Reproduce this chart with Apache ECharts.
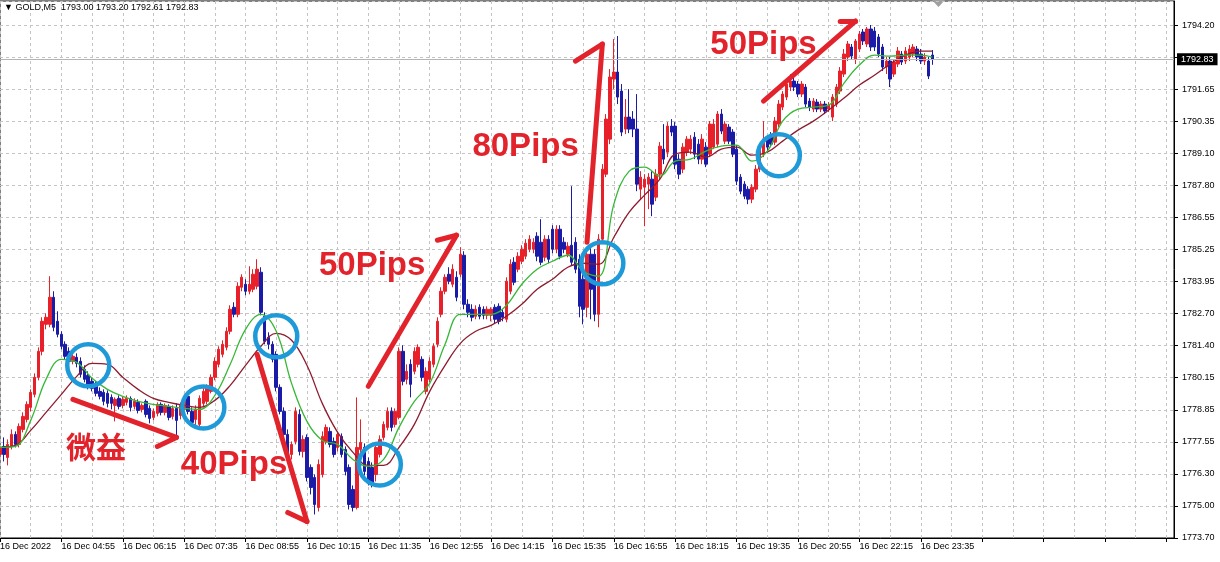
<!DOCTYPE html>
<html>
<head>
<meta charset="utf-8">
<title>GOLD,M5</title>
<script src="https://cdn.jsdelivr.net/npm/echarts@6/dist/echarts.min.js"></script>
<style>
    html, body { margin: 0; padding: 0; background: #fff; }
    #chart { width: 1220px; height: 562px; }
</style>
</head>
<body>
<div id="chart"></div>
<script>
// GOLD M5, 16 Dec 2022 - bars start at 03:35
const barCount = 307; // incl. empty space on the right

const xTickLabels = [
    "16 Dec 2022", "16 Dec 04:55", "16 Dec 06:15", "16 Dec 07:35", "16 Dec 08:55",
    "16 Dec 10:15", "16 Dec 11:35", "16 Dec 12:55", "16 Dec 14:15", "16 Dec 15:35",
    "16 Dec 16:55", "16 Dec 18:15", "16 Dec 19:35", "16 Dec 20:55", "16 Dec 22:15",
    "16 Dec 23:35"
];

const yTickLabels = [
    "1773.70", "1775.00", "1776.30", "1777.55", "1778.85", "1780.15", "1781.40",
    "1782.70", "1783.95", "1785.25", "1786.55", "1787.80", "1789.10", "1790.35",
    "1791.65", "1792.90", "1794.20"
];

// [open, close, low, high]
const candles = [
    [1777.04, 1777.32, 1776.76, 1777.64], [1777.36, 1777.04, 1776.76, 1777.72], [1776.92, 1777.44, 1776.60, 1777.64],
    [1777.36, 1777.84, 1777.24, 1778.04], [1777.84, 1777.44, 1777.32, 1777.96], [1777.44, 1778.16, 1777.32, 1778.28],
    [1778.04, 1778.56, 1777.92, 1778.72], [1778.44, 1779.04, 1778.32, 1779.16], [1778.92, 1779.52, 1778.76, 1779.64],
    [1779.44, 1780.12, 1779.32, 1780.28], [1780.12, 1781.16, 1780.00, 1781.32], [1781.16, 1782.36, 1781.00, 1782.52],
    [1782.24, 1782.52, 1782.04, 1782.68], [1782.24, 1783.32, 1782.12, 1784.16], [1783.32, 1782.12, 1781.96, 1783.56],
    [1782.36, 1781.84, 1781.72, 1782.76], [1781.84, 1781.36, 1781.24, 1781.96], [1781.44, 1780.96, 1780.84, 1781.56],
    [1781.16, 1780.76, 1780.60, 1781.32], [1780.76, 1780.96, 1780.64, 1781.16], [1780.92, 1780.68, 1780.52, 1781.08],
    [1780.76, 1780.24, 1780.12, 1780.92], [1780.44, 1780.04, 1779.92, 1780.60], [1780.20, 1779.80, 1779.64, 1780.36],
    [1779.96, 1779.68, 1779.56, 1780.12], [1779.84, 1779.48, 1779.36, 1779.96], [1779.56, 1779.36, 1779.24, 1779.72],
    [1779.52, 1779.16, 1779.00, 1779.64], [1779.48, 1779.08, 1778.92, 1779.60], [1779.32, 1779.08, 1778.84, 1779.44],
    [1779.00, 1779.24, 1778.36, 1779.32], [1779.28, 1778.96, 1778.84, 1779.40], [1779.00, 1779.24, 1778.88, 1779.36],
    [1779.12, 1779.28, 1779.00, 1779.40], [1779.28, 1778.92, 1778.76, 1779.36], [1778.96, 1779.16, 1778.84, 1779.28],
    [1779.12, 1778.80, 1778.68, 1779.24], [1778.84, 1779.00, 1778.72, 1779.08], [1779.16, 1778.64, 1778.52, 1779.24],
    [1778.88, 1778.48, 1778.28, 1779.00], [1778.52, 1778.76, 1778.40, 1778.88], [1778.68, 1779.04, 1778.56, 1779.12],
    [1779.04, 1778.72, 1778.60, 1779.12], [1778.72, 1779.00, 1778.60, 1779.08], [1778.96, 1778.52, 1778.40, 1779.04],
    [1778.56, 1778.88, 1778.44, 1779.00], [1778.88, 1778.40, 1777.72, 1779.08], [1778.60, 1779.00, 1778.44, 1779.12],
    [1778.84, 1779.24, 1778.72, 1779.36], [1779.36, 1778.76, 1778.64, 1779.48], [1778.76, 1778.32, 1778.20, 1778.92],
    [1778.44, 1778.84, 1778.12, 1779.00], [1778.24, 1779.28, 1778.12, 1779.40], [1779.08, 1779.56, 1778.92, 1779.72],
    [1779.16, 1779.72, 1779.04, 1779.84], [1779.56, 1780.12, 1779.48, 1780.24], [1780.12, 1780.76, 1780.00, 1780.92],
    [1780.64, 1781.24, 1780.52, 1781.36], [1781.04, 1781.44, 1780.92, 1781.60], [1781.32, 1781.96, 1781.20, 1782.12],
    [1781.96, 1782.84, 1781.84, 1783.00], [1782.92, 1782.64, 1782.52, 1783.12], [1782.64, 1783.76, 1782.52, 1783.92],
    [1783.72, 1784.12, 1783.56, 1784.24], [1783.84, 1783.56, 1783.40, 1784.04], [1783.56, 1783.84, 1783.44, 1784.56],
    [1783.64, 1784.24, 1783.52, 1784.44], [1783.76, 1784.44, 1783.64, 1784.84], [1784.32, 1782.72, 1782.60, 1784.52],
    [1782.56, 1781.56, 1781.44, 1782.72], [1781.72, 1781.44, 1781.24, 1781.92], [1781.44, 1780.84, 1780.72, 1781.56],
    [1781.04, 1779.72, 1779.56, 1781.16], [1779.72, 1778.76, 1778.64, 1779.84], [1778.76, 1777.84, 1777.72, 1778.92],
    [1777.84, 1777.04, 1776.84, 1778.04], [1777.04, 1777.44, 1776.84, 1777.56], [1777.56, 1778.76, 1777.44, 1778.92],
    [1778.64, 1777.16, 1777.00, 1778.84], [1777.16, 1777.64, 1776.92, 1777.80], [1777.72, 1776.12, 1775.96, 1777.84],
    [1776.52, 1775.72, 1775.44, 1776.64], [1776.12, 1775.04, 1774.64, 1776.24], [1774.92, 1776.64, 1774.76, 1776.84],
    [1776.24, 1777.76, 1776.12, 1777.96], [1777.56, 1778.12, 1777.44, 1778.24], [1777.96, 1777.44, 1777.32, 1778.12],
    [1777.56, 1777.04, 1776.92, 1777.72], [1777.32, 1777.84, 1777.16, 1777.96], [1777.76, 1777.04, 1776.92, 1777.88],
    [1777.24, 1776.36, 1776.20, 1777.36], [1776.52, 1775.04, 1774.84, 1776.64], [1775.64, 1774.92, 1774.76, 1775.80],
    [1774.92, 1777.32, 1774.84, 1779.32], [1777.24, 1777.52, 1776.84, 1778.44], [1777.32, 1776.36, 1776.20, 1777.48],
    [1776.76, 1775.96, 1775.80, 1776.92], [1776.52, 1775.84, 1775.72, 1776.72], [1776.24, 1777.32, 1775.96, 1777.48],
    [1777.04, 1777.64, 1776.92, 1777.80], [1777.72, 1778.24, 1777.60, 1778.36], [1778.12, 1778.76, 1778.00, 1778.92],
    [1778.76, 1778.12, 1777.96, 1778.92], [1778.24, 1778.76, 1778.12, 1778.88], [1778.52, 1781.16, 1778.44, 1781.32],
    [1781.16, 1779.96, 1779.80, 1781.40], [1780.04, 1780.36, 1779.84, 1780.64], [1780.64, 1779.84, 1779.32, 1780.84],
    [1780.36, 1781.16, 1780.24, 1781.32], [1780.64, 1781.32, 1780.52, 1781.44], [1780.84, 1780.12, 1779.96, 1780.96],
    [1779.56, 1780.36, 1779.44, 1780.52], [1780.04, 1780.76, 1779.92, 1780.92], [1780.64, 1781.36, 1780.52, 1781.48],
    [1781.44, 1782.36, 1781.32, 1782.52], [1782.64, 1783.56, 1782.52, 1783.72], [1783.56, 1784.12, 1783.44, 1784.24],
    [1784.24, 1783.96, 1783.84, 1784.52], [1783.84, 1784.44, 1783.72, 1784.64], [1784.12, 1783.32, 1783.16, 1784.36],
    [1784.24, 1785.04, 1784.12, 1785.32], [1785.00, 1783.04, 1782.84, 1785.16], [1783.04, 1782.72, 1782.52, 1783.24],
    [1782.84, 1782.52, 1782.36, 1783.04], [1782.56, 1782.84, 1782.44, 1783.00], [1782.92, 1782.56, 1782.44, 1783.04],
    [1782.84, 1782.60, 1782.44, 1782.96], [1782.60, 1782.84, 1782.44, 1782.96], [1782.60, 1782.84, 1782.36, 1782.92],
    [1782.92, 1782.44, 1782.28, 1783.04], [1782.96, 1782.36, 1782.24, 1783.08], [1782.72, 1782.52, 1782.36, 1782.84],
    [1782.44, 1783.96, 1782.32, 1784.12], [1783.56, 1784.64, 1783.44, 1784.84], [1784.72, 1783.92, 1783.80, 1784.92],
    [1784.44, 1784.96, 1784.32, 1785.12], [1784.76, 1785.24, 1784.64, 1785.40], [1784.96, 1785.48, 1784.84, 1785.64],
    [1785.24, 1785.64, 1785.12, 1785.80], [1785.24, 1785.52, 1785.08, 1785.68], [1785.76, 1784.96, 1784.76, 1785.92],
    [1785.52, 1784.72, 1784.60, 1786.44], [1784.92, 1785.64, 1784.76, 1785.80], [1785.64, 1784.84, 1784.68, 1785.80],
    [1786.04, 1785.24, 1785.08, 1786.20], [1785.24, 1786.04, 1785.08, 1786.20], [1786.04, 1784.96, 1784.84, 1786.20],
    [1785.52, 1785.24, 1785.08, 1785.72], [1785.04, 1785.36, 1784.92, 1785.52], [1785.40, 1784.72, 1784.60, 1787.76],
    [1785.52, 1784.44, 1784.28, 1785.72], [1784.84, 1782.96, 1782.52, 1785.04], [1784.04, 1782.84, 1782.24, 1784.24],
    [1782.92, 1785.04, 1782.52, 1785.24], [1785.04, 1783.64, 1782.44, 1785.32], [1785.04, 1782.64, 1782.36, 1785.24],
    [1782.64, 1785.64, 1782.12, 1785.84], [1785.64, 1788.44, 1785.44, 1788.64], [1788.24, 1790.44, 1788.12, 1790.64],
    [1789.64, 1792.12, 1789.44, 1792.44], [1792.04, 1792.32, 1791.64, 1793.64], [1792.32, 1791.32, 1791.04, 1793.76],
    [1791.56, 1789.92, 1789.76, 1791.84], [1790.04, 1790.52, 1789.84, 1791.24], [1790.52, 1790.04, 1789.88, 1791.64],
    [1790.44, 1790.04, 1789.72, 1790.76], [1790.04, 1787.84, 1787.56, 1791.44], [1787.64, 1788.12, 1787.24, 1788.36],
    [1787.72, 1788.04, 1786.16, 1788.24], [1787.84, 1788.12, 1786.84, 1788.28], [1788.04, 1787.04, 1786.56, 1788.36],
    [1787.32, 1788.24, 1787.16, 1788.44], [1788.24, 1789.36, 1788.04, 1789.52], [1789.24, 1788.84, 1788.64, 1790.24],
    [1789.12, 1790.16, 1788.92, 1790.32], [1790.16, 1789.92, 1789.76, 1790.44], [1790.16, 1788.64, 1788.44, 1790.32],
    [1788.84, 1788.24, 1788.04, 1789.04], [1788.44, 1789.32, 1788.28, 1789.48], [1789.12, 1789.64, 1788.96, 1789.76],
    [1789.24, 1789.64, 1789.04, 1789.80], [1789.72, 1789.04, 1788.84, 1789.92], [1789.44, 1788.84, 1788.64, 1789.64],
    [1788.84, 1789.64, 1788.64, 1789.84], [1789.32, 1788.64, 1788.52, 1789.52], [1789.04, 1790.24, 1788.92, 1790.36],
    [1789.32, 1790.24, 1789.24, 1790.44], [1789.44, 1790.64, 1789.32, 1790.76], [1790.64, 1789.96, 1789.84, 1790.84],
    [1789.56, 1790.24, 1789.44, 1790.36], [1790.12, 1789.56, 1789.44, 1790.24], [1789.92, 1789.04, 1788.92, 1790.04],
    [1789.24, 1787.96, 1787.80, 1789.40], [1788.12, 1787.56, 1787.44, 1788.24], [1787.84, 1787.36, 1787.24, 1787.96],
    [1787.64, 1787.24, 1787.04, 1787.76], [1787.24, 1787.72, 1787.08, 1787.84], [1787.64, 1788.44, 1787.52, 1788.60],
    [1788.44, 1789.24, 1788.32, 1789.40], [1789.04, 1789.64, 1788.92, 1790.36], [1789.64, 1789.32, 1789.16, 1789.80],
    [1789.76, 1789.44, 1789.32, 1789.92], [1789.52, 1790.36, 1789.40, 1790.52], [1790.24, 1791.04, 1790.12, 1791.20],
    [1790.92, 1791.44, 1790.80, 1791.56], [1791.32, 1791.84, 1791.20, 1792.04], [1791.72, 1791.96, 1791.56, 1792.24],
    [1791.96, 1791.72, 1791.56, 1792.20], [1791.84, 1791.44, 1791.32, 1791.96], [1791.44, 1791.84, 1791.32, 1791.96],
    [1791.72, 1791.04, 1790.92, 1791.84], [1791.16, 1790.92, 1790.76, 1791.28], [1790.84, 1791.16, 1790.72, 1791.28],
    [1791.12, 1790.84, 1790.72, 1791.24], [1790.84, 1791.04, 1790.72, 1791.16], [1791.04, 1790.76, 1790.64, 1791.16],
    [1790.84, 1791.00, 1790.72, 1791.12], [1790.52, 1791.32, 1790.36, 1791.44], [1791.04, 1791.72, 1790.92, 1791.84],
    [1791.56, 1792.36, 1791.44, 1792.52], [1792.24, 1793.04, 1792.12, 1793.24], [1792.92, 1793.44, 1792.76, 1793.56],
    [1793.32, 1792.96, 1792.84, 1793.44], [1792.84, 1793.56, 1792.64, 1793.64], [1793.24, 1793.84, 1793.12, 1793.96],
    [1793.92, 1793.56, 1793.40, 1794.04], [1793.44, 1794.04, 1793.32, 1794.12], [1794.04, 1793.32, 1793.16, 1794.20],
    [1793.96, 1793.32, 1793.16, 1794.12], [1793.72, 1793.04, 1792.92, 1793.84], [1793.32, 1792.52, 1792.36, 1793.44],
    [1792.52, 1792.76, 1792.24, 1792.92], [1792.76, 1792.04, 1791.72, 1792.92], [1792.24, 1792.72, 1792.12, 1792.84],
    [1792.64, 1793.16, 1792.52, 1793.32], [1793.04, 1792.72, 1792.60, 1793.16], [1792.76, 1793.16, 1792.64, 1793.32],
    [1792.92, 1793.24, 1792.76, 1793.40], [1793.04, 1793.32, 1792.92, 1793.44], [1793.24, 1792.92, 1792.76, 1793.36],
    [1793.04, 1792.76, 1792.64, 1793.24], [1792.76, 1792.92, 1792.60, 1793.08], [1792.76, 1792.16, 1792.04, 1792.92],
    [1793.00, 1792.83, 1792.61, 1793.20]
];

// moving averages, read every 4 bars
const maIndex = [
    0, 4, 8, 12, 16, 20, 24, 28, 32, 36, 40, 44, 48, 52, 56, 60, 64, 68, 72, 76, 80,
    84, 88, 92, 96, 100, 104, 108, 112, 116, 120, 124, 128, 132, 136, 140, 144, 148,
    152, 156, 160, 164, 168, 172, 176, 180, 184, 188, 192, 196, 200, 204, 208, 212,
    216, 220, 224, 228, 232, 236, 240, 243
];
const maFast = [
    1777.32, 1777.36, 1778.40, 1780.04, 1780.84, 1780.72, 1780.08, 1779.64, 1779.36, 1779.16,
    1779.04, 1778.96, 1778.88, 1778.84, 1779.40, 1780.64, 1782.04, 1782.64, 1781.96, 1779.88,
    1778.36, 1777.60, 1777.44, 1776.84, 1776.56, 1776.84, 1778.12, 1779.16, 1779.88, 1781.44,
    1782.64, 1782.64, 1782.64, 1783.00, 1783.84, 1784.44, 1784.76, 1785.00, 1784.36, 1784.16,
    1787.04, 1788.36, 1788.52, 1788.16, 1788.76, 1788.84, 1789.16, 1789.36, 1789.40, 1788.76,
    1789.16, 1790.36, 1790.84, 1790.92, 1791.00, 1791.88, 1792.60, 1793.00, 1792.96, 1793.00,
    1793.00, 1792.92
];
const maSlow = [
    1777.32, 1777.40, 1778.00, 1778.72, 1779.44, 1780.16, 1780.68, 1780.64, 1780.12, 1779.64,
    1779.28, 1779.12, 1779.00, 1778.92, 1779.20, 1779.80, 1780.60, 1781.36, 1781.88, 1781.60,
    1780.60, 1779.08, 1777.92, 1777.12, 1776.60, 1776.60, 1777.32, 1778.24, 1779.56, 1780.60,
    1781.48, 1781.96, 1782.20, 1782.56, 1783.04, 1783.64, 1784.04, 1784.52, 1784.68, 1784.64,
    1785.72, 1786.72, 1787.40, 1788.04, 1789.04, 1789.12, 1788.92, 1789.24, 1789.32, 1789.00,
    1789.12, 1789.56, 1790.00, 1790.36, 1790.80, 1791.28, 1791.80, 1792.20, 1792.64, 1793.00,
    1793.16, 1793.16
];

const bidPrice = 1792.83;

// annotations in data units: [bar index, price]
const arrowLines = [
    [[18.8, 1779.24], [46.4, 1777.72]], [[40.9, 1777.36], [46.4, 1777.72]],
    [[66.5, 1781.04], [80.3, 1774.36]], [[74.8, 1774.72], [80.3, 1774.36]],
    [[95.6, 1779.76], [118.6, 1785.80]], [[113.6, 1785.60], [118.6, 1785.80]],
    [[152.5, 1785.52], [156.9, 1793.44]], [[150.4, 1792.76], [156.9, 1793.44]],
    [[199.4, 1791.16], [223.4, 1794.36]], [[218.9, 1794.36], [223.4, 1794.36]]
];
const noteTexts = ["微益", "40Pips", "50Pips", "80Pips", "50Pips"];
const notePos = [[24.8, 1777.36], [61.0, 1776.64], [96.9, 1784.56], [137.3, 1789.32], [198.9, 1793.40]];
const circlePos = [
    [23.2, 1780.60], [52.6, 1778.92], [71.7, 1781.76],
    [99.0, 1776.64], [157.4, 1784.68], [202.5, 1789.00]
];

const yMin = 1773.70;
const yStep = 1.28125;
const yMax = 1795.16;

const RED = "#e8202a";
const BLUE = "#1a1ca8";
const NOTE_RED = "#e2232b";
const CIRCLE_BLUE = "#1f9ad8";

// 5 minute bar times from 03:35
const categories = [];
for (let i = 0; i < barCount; i++) {
    const m = (3 * 60 + 35 + i * 5) % (24 * 60);
    categories.push(String(Math.floor(m / 60)).padStart(2, "0") + ":" + String(m % 60).padStart(2, "0"));
}

const chart = echarts.init(document.getElementById("chart"));

const gridLine = { show: true, lineStyle: { color: "#c4c4c4", type: [3, 3], width: 1 } };

chart.setOption({
    animation: false,
    backgroundColor: "#ffffff",
    title: {
        text: "▼ GOLD,M5  1793.00 1793.20 1792.61 1792.83",
        left: 4,
        top: 3,
        padding: 0,
        textStyle: { fontSize: 9, fontWeight: "normal", color: "#000", fontFamily: "Liberation Sans" }
    },
    grid: {
        left: 0,
        right: 46,
        top: 1,
        bottom: 24,
        outerBoundsMode: "none",
        containLabel: false,
        show: true,
        borderColor: "#000",
        borderWidth: 1
    },
    xAxis: {
        type: "category",
        data: categories,
        boundaryGap: false,
        axisLine: { lineStyle: { color: "#000", width: 1 } },
        axisTick: { show: true, interval: 15, length: 4, lineStyle: { color: "#000" } },
        splitLine: Object.assign({ interval: 7 }, gridLine),
        axisLabel: {
            interval: 15,
            align: "left",
            margin: 4,
            fontSize: 9,
            color: "#000",
            fontFamily: "Liberation Sans",
            formatter: (val, idx) => (idx % 16 === 0 && xTickLabels[idx / 16]) || ""
        }
    },
    yAxis: {
        type: "value",
        position: "right",
        scale: true,
        min: yMin,
        max: yMax,
        interval: yStep,
        axisLine: { show: true, lineStyle: { color: "#000", width: 1 } },
        axisTick: { show: true, length: 4, lineStyle: { color: "#000" } },
        splitLine: gridLine,
        axisLabel: {
            showMaxLabel: false,
            margin: 8,
            fontSize: 9,
            color: "#000",
            fontFamily: "Liberation Sans",
            formatter: (val) => yTickLabels[Math.round((val - yMin) / yStep)] || ""
        }
    },
    series: [
        {
            name: "GOLD",
            type: "candlestick",
            data: candles,
            barWidth: 3,
            itemStyle: {
                color: RED,
                color0: BLUE,
                borderColor: RED,
                borderColor0: BLUE,
                borderWidth: 1
            },
            markLine: {
                silent: true,
                symbol: ["none", "none"],
                lineStyle: { color: "#b4b4b4", type: "solid", width: 1 },
                label: {
                    position: "end",
                    distance: 3,
                    formatter: bidPrice.toFixed(2),
                    backgroundColor: "#000",
                    color: "#fff",
                    fontSize: 9,
                    fontFamily: "Liberation Sans",
                    padding: [2, 4, 1, 4]
                },
                data: [{ yAxis: bidPrice }]
            }
        },
        {
            name: "MA slow",
            type: "line",
            data: maIndex.map((d, k) => [d, maSlow[k]]),
            smooth: 0.4,
            showSymbol: false,
            lineStyle: { color: "#8e1b2e", width: 1.3 },
            z: 3
        },
        {
            name: "MA fast",
            type: "line",
            data: maIndex.map((d, k) => [d, maFast[k]]),
            smooth: 0.4,
            showSymbol: false,
            lineStyle: { color: "#36b836", width: 1.3 },
            z: 4
        },
        {
            name: "notes",
            type: "line",
            data: [],
            z: 10,
            markLine: {
                silent: true,
                symbol: ["none", "none"],
                lineStyle: { color: NOTE_RED, width: 5, type: "solid", cap: "round" },
                label: { show: false },
                data: arrowLines.map(s => [{ coord: s[0] }, { coord: s[1] }])
            },
            markPoint: {
                silent: true,
                data: circlePos.map(p => ({
                    coord: p,
                    symbol: "circle",
                    symbolSize: 42,
                    itemStyle: { color: "rgba(0,0,0,0)", borderColor: CIRCLE_BLUE, borderWidth: 4.5 },
                    label: { show: false }
                })).concat(noteTexts.map((t, k) => ({
                    coord: notePos[k],
                    symbol: "circle",
                    symbolSize: 1,
                    itemStyle: { color: "rgba(0,0,0,0)" },
                    label: {
                        show: true,
                        position: "inside",
                        formatter: t,
                        color: NOTE_RED,
                        fontWeight: "bold",
                        fontSize: k === 0 ? 30 : 33,
                        fontFamily: k === 0 ? "Noto Sans CJK JP" : "Liberation Sans"
                    }
                })))
            }
        }
    ],
    graphic: [
        {
            // chart shift marker
            type: "polygon",
            shape: { points: [[932, 0], [945, 0], [938.5, 7]] },
            style: { fill: "#a0a0a0" }
        }
    ]
});
</script>
</body>
</html>
